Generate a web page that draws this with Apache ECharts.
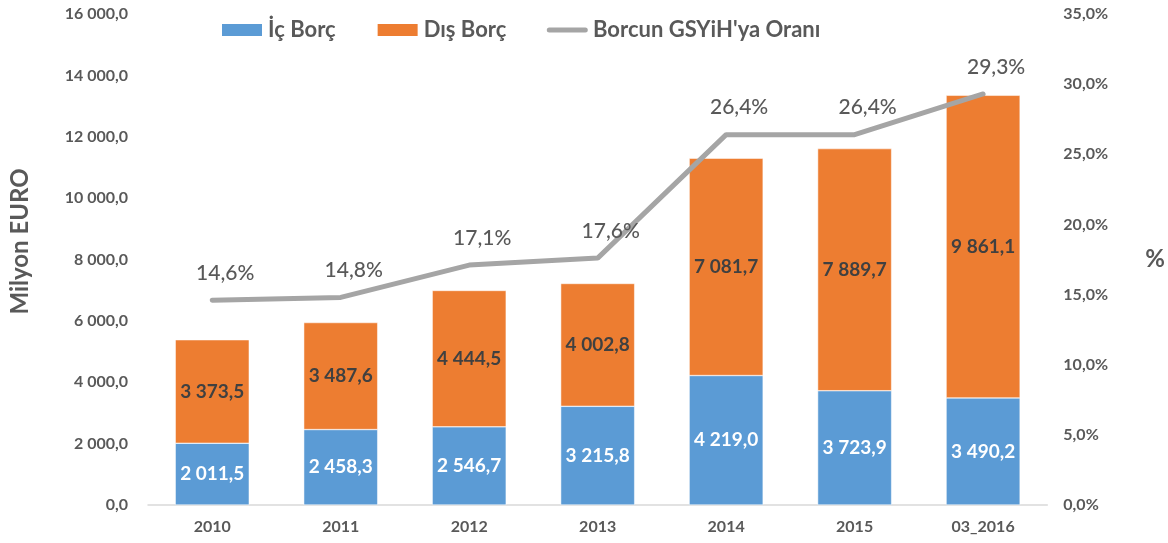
<!DOCTYPE html>
<html lang="tr">
  <head>
    <meta charset="UTF-8" />
    <title>Borç</title>
    <style>
      html, body { margin: 0; padding: 0; background: #fff; }
      #container { width: 1168px; height: 543px; }
    </style>
    <script src="https://cdn.jsdelivr.net/npm/echarts@6/dist/echarts.min.js"></script>
  </head>
  <body>
    <div id="container"></div>
    <script>
      const years = ['2010', '2011', '2012', '2013', '2014', '2015', '03_2016']
      const icBorc = [2011.5, 2458.3, 2546.7, 3215.8, 4219.0, 3723.9, 3490.2]
      const disBorc = [3373.5, 3487.6, 4444.5, 4002.8, 7081.7, 7889.7, 9861.1]
      const oran = [14.6, 14.8, 17.1, 17.6, 26.4, 26.4, 29.3]

      const font = 'Lato'
      const gray = '#595959'
      // thin rounded bar centred in a 42x14 box, for the line's legend entry
      const lineIcon =
        'path://M0,0 L0.01,0 L0,0.01 Z M0,14 L0.01,14 L0,13.99 Z ' +
        'M3,4.5 L39,4.5 A2.5,2.5 0 0 1 39,9.5 L3,9.5 A2.5,2.5 0 0 1 3,4.5 Z'

      // 2 011,5 style
      function fmt(v) {
        const parts = v.toFixed(1).split('.')
        return parts[0].replace(/\B(?=(\d{3})+(?!\d))/g, ' ') + ',' + parts[1]
      }

      const chart = echarts.init(document.getElementById('container'))
      chart.setOption({
        animation: false,
        textStyle: { fontFamily: font },
        legend: {
          left: 215,
          top: 14,
          itemGap: 40,
          itemWidth: 42,
          itemHeight: 14,
          textStyle: { fontSize: 22, fontWeight: 'bold', color: gray, fontFamily: font },
          data: [
            { name: 'İç Borç', icon: 'rect' },
            { name: 'Dış Borç', icon: 'rect' },
            { name: "Borcun GSYiH'ya Oranı", icon: lineIcon }
          ]
        },
        grid: { left: 147, right: 118, top: 14, bottom: 38 },
        xAxis: {
          type: 'category',
          data: years,
          axisLine: { lineStyle: { color: '#D9D9D9', width: 1.5 } },
          axisTick: { show: false },
          axisLabel: { color: gray, fontSize: 16, fontWeight: 'bold', margin: 14 }
        },
        yAxis: [
          {
            type: 'value',
            min: 0,
            max: 16000,
            interval: 2000,
            name: 'Milyon EURO',
            nameLocation: 'middle',
            nameGap: 116,
            nameTextStyle: { fontSize: 24, fontWeight: 'bold', color: gray, padding: [0, 0, 0, 36] },
            splitLine: { show: false },
            axisLine: { show: false },
            axisTick: { show: false },
            axisLabel: { color: gray, fontSize: 16, fontWeight: 'bold', margin: 20, formatter: fmt }
          },
          {
            type: 'value',
            min: 0,
            max: 35,
            interval: 5,
            name: '%',
            nameLocation: 'middle',
            nameGap: 98,
            nameRotate: 0,
            nameTextStyle: { fontSize: 24, fontWeight: 'bold', color: gray },
            splitLine: { show: false },
            axisLine: { show: false },
            axisTick: { show: false },
            axisLabel: {
              color: gray, fontSize: 16, fontWeight: 'bold', margin: 16,
              formatter: (v) => v.toFixed(1).replace('.', ',') + '%'
            }
          }
        ],
        series: [
          {
            name: 'İç Borç',
            type: 'bar',
            stack: 'borc',
            barWidth: 74,
            data: icBorc,
            itemStyle: { color: '#5B9BD5', borderColor: '#fff', borderWidth: 0.5 },
            label: {
              show: true, position: 'inside', color: '#fff', fontSize: 19, fontWeight: 'bold',
              formatter: (p) => fmt(p.value)
            }
          },
          {
            name: 'Dış Borç',
            type: 'bar',
            stack: 'borc',
            barWidth: 74,
            data: disBorc,
            itemStyle: { color: '#ED7D31', borderColor: '#fff', borderWidth: 0.5 },
            label: {
              show: true, position: 'inside', color: '#404040', fontSize: 19, fontWeight: 'bold',
              formatter: (p) => fmt(p.value)
            }
          },
          {
            name: "Borcun GSYiH'ya Oranı",
            type: 'line',
            yAxisIndex: 1,
            data: oran,
            symbol: 'circle',
            symbolSize: 1,
            showSymbol: true,
            z: 5,
            lineStyle: { color: '#A5A5A5', width: 5, cap: 'round' },
            itemStyle: { color: '#A5A5A5', borderWidth: 0 },
            label: {
              show: true, position: 'top', distance: 16, offset: [13, 0],
              color: gray, fontSize: 21, fontWeight: 500,
              formatter: (p) => p.value.toFixed(1).replace('.', ',') + '%'
            }
          }
        ]
      })
    </script>
  </body>
</html>
